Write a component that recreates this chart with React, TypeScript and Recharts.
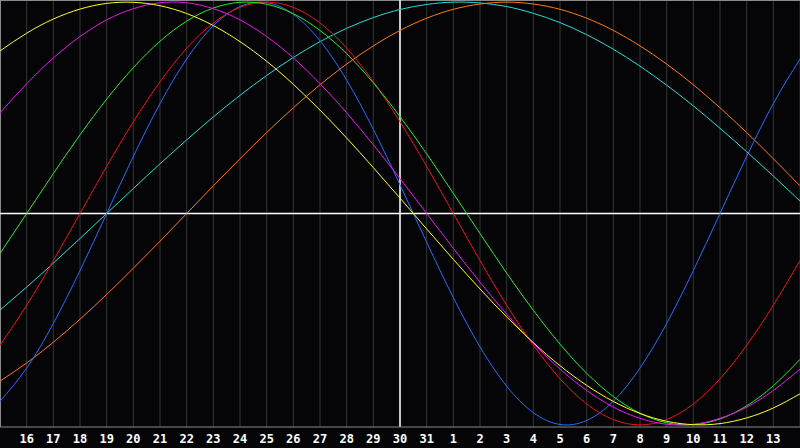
import React from "react";
import { LineChart, Line, XAxis, YAxis, CartesianGrid, ReferenceLine } from "recharts";

const days = [15, 16, 17, 18, 19, 20, 21, 22, 23, 24, 25, 26, 27, 28, 29, 30, 31, 1, 2, 3, 4, 5, 6, 7, 8, 9, 10, 11, 12, 13, 14];

const physical = [-0.888, -0.731, -0.52, -0.27, 0, 0.27, 0.52, 0.731, 0.888, 0.979, 0.998, 0.942, 0.817, 0.631, 0.398, 0.136, -0.136, -0.398, -0.631, -0.817, -0.942, -0.998, -0.979, -0.888, -0.731, -0.52, -0.27, 0, 0.27, 0.52, 0.731];
const emotional = [-0.623, -0.434, -0.223, 0, 0.223, 0.434, 0.623, 0.782, 0.901, 0.975, 1.0, 0.975, 0.901, 0.782, 0.623, 0.434, 0.223, 0, -0.223, -0.434, -0.623, -0.782, -0.901, -0.975, -1.0, -0.975, -0.901, -0.782, -0.623, -0.434, -0.223];
const intellectual = [-0.189, 0, 0.189, 0.372, 0.541, 0.69, 0.815, 0.91, 0.972, 0.999, 0.99, 0.945, 0.866, 0.756, 0.618, 0.458, 0.282, 0.095, -0.095, -0.282, -0.458, -0.618, -0.756, -0.866, -0.945, -0.99, -0.999, -0.972, -0.91, -0.815, -0.69];
const intuitive = [0.476, 0.614, 0.736, 0.837, 0.916, 0.969, 0.997, 0.997, 0.969, 0.916, 0.837, 0.736, 0.614, 0.476, 0.325, 0.165, 0, -0.165, -0.325, -0.476, -0.614, -0.736, -0.837, -0.916, -0.969, -0.997, -0.997, -0.969, -0.916, -0.837, -0.736];
const aesthetic = [0.769, 0.853, 0.92, 0.967, 0.994, 0.999, 0.983, 0.946, 0.889, 0.813, 0.72, 0.611, 0.489, 0.357, 0.217, 0.073, -0.073, -0.217, -0.357, -0.489, -0.611, -0.72, -0.813, -0.889, -0.946, -0.983, -0.999, -0.994, -0.967, -0.92, -0.853];
const awareness = [-0.793, -0.707, -0.609, -0.5, -0.383, -0.259, -0.131, 0, 0.131, 0.259, 0.383, 0.5, 0.609, 0.707, 0.793, 0.866, 0.924, 0.966, 0.991, 1.0, 0.991, 0.966, 0.924, 0.866, 0.793, 0.707, 0.609, 0.5, 0.383, 0.259, 0.131];
const spiritual = [-0.457, -0.348, -0.235, -0.118, 0, 0.118, 0.235, 0.348, 0.457, 0.559, 0.653, 0.738, 0.813, 0.876, 0.927, 0.965, 0.989, 1.0, 0.996, 0.979, 0.947, 0.903, 0.846, 0.777, 0.697, 0.607, 0.509, 0.403, 0.292, 0.177, 0.059];

const data = days.map((d, i) => ({
  i,
  day: d,
  physical: physical[i],
  emotional: emotional[i],
  intellectual: intellectual[i],
  intuitive: intuitive[i],
  aesthetic: aesthetic[i],
  awareness: awareness[i],
  spiritual: spiritual[i],
}));

const ticks = days.map((_, i) => i);

const series = [
  { key: "spiritual", color: "#22dddd" },
  { key: "awareness", color: "#ff7a10" },
  { key: "physical", color: "#1f6fff" },
  { key: "emotional", color: "#ee1111" },
  { key: "intellectual", color: "#22ee22" },
  { key: "intuitive", color: "#ee11ee" },
  { key: "aesthetic", color: "#ffff22" },
];

export default function App() {
  return (
    <div style={{ position: "absolute", left: 0, top: 0, width: 800, height: 448, background: "#050508" }}>
      <LineChart width={800} height={448} data={data} margin={{ top: 0, right: 0, bottom: 0, left: 0 }}>
        <CartesianGrid horizontal={false} stroke="#363636" strokeWidth={1} />
        <XAxis
          dataKey="i"
          type="number"
          domain={[0, 30]}
          ticks={ticks}
          interval={0}
          height={21}
          tickLine={false}
          axisLine={{ stroke: "#8a8a8a", strokeWidth: 1 }}
          tickFormatter={(v: number) => (v === 0 || v === 30 ? "" : String(days[v]))}
          tick={{ fill: "#ffffff", fontSize: 12, fontWeight: "bold", fontFamily: "DejaVu Sans Mono" }}
          tickMargin={1}
        />
        <YAxis hide domain={[-1.01, 1.01]} type="number" />
        <ReferenceLine x={0} stroke="#8a8a8a" strokeWidth={2} />
        <ReferenceLine y={1.01} stroke="#8a8a8a" strokeWidth={2} />
        <ReferenceLine x={15} stroke="#ffffff" strokeWidth={1.5} />
        <ReferenceLine y={0} stroke="#ffffff" strokeWidth={1.5} />
        {series.map((s) => (
          <Line
            key={s.key}
            type="natural"
            dataKey={s.key}
            stroke={s.color}
            dot={false}
            activeDot={false}
            strokeWidth={1}
            isAnimationActive={false}
          />
        ))}
      </LineChart>
    </div>
  );
}
